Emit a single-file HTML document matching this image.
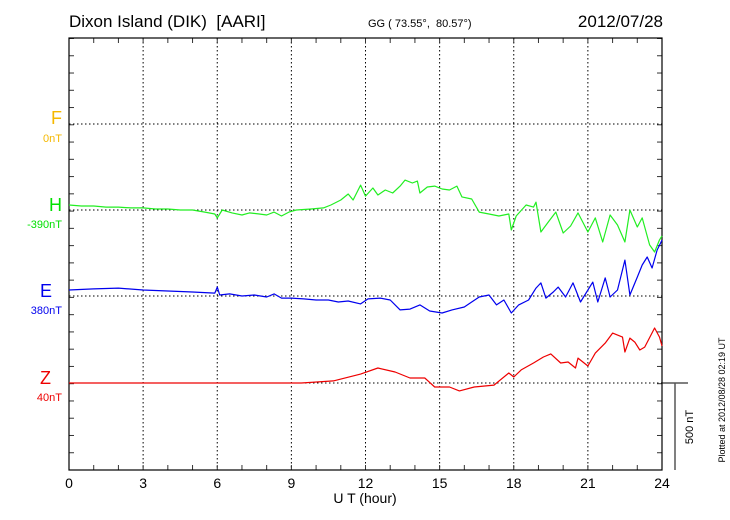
<!DOCTYPE html>
<html><head><meta charset="utf-8"><style>
body{margin:0;background:#fff;}
svg{display:block;font-family:"Liberation Sans",sans-serif;}
</style></head><body>
<svg id="chart" width="730" height="520" viewBox="0 0 730 520">
<text x="69" y="27" font-size="17" style="white-space:pre">Dixon Island (DIK)  [AARI]</text>
<text x="368" y="27" font-size="11" style="white-space:pre">GG ( 73.55°,  80.57°)</text>
<text x="663" y="27" font-size="17" text-anchor="end">2012/07/28</text>
<text x="365" y="503" font-size="14" text-anchor="middle">U T (hour)</text>
<text transform="translate(725,400) rotate(-90)" font-size="9" text-anchor="middle">Plotted at 2012/08/28 02:19 UT</text>
<g id="grid"></g><g id="series"></g>
<text x="62" y="124" font-size="18" fill="#f5b800" text-anchor="end">F</text>
<text x="62" y="142" font-size="11" fill="#f5b800" text-anchor="end">0nT</text>
<text x="62" y="211" font-size="18" fill="#00e000" text-anchor="end">H</text>
<text x="62" y="228" font-size="11" fill="#00e000" text-anchor="end">-390nT</text>
<text x="52" y="297" font-size="18" fill="#0000ee" text-anchor="end">E</text>
<text x="62" y="314" font-size="11" fill="#0000ee" text-anchor="end">380nT</text>
<text x="51" y="384" font-size="18" fill="#ee0000" text-anchor="end">Z</text>
<text x="62" y="401" font-size="11" fill="#ee0000" text-anchor="end">40nT</text>
<line x1="662" y1="383" x2="688" y2="383" stroke="#000"/>
<line x1="675" y1="383" x2="675" y2="470" stroke="#555" stroke-width="1.5"/>
<text transform="translate(693,427) rotate(-90)" font-size="11" text-anchor="middle">500 nT</text>
</svg>
<script>
const xTicks=[0,3,6,9,12,15,18,21,24];
const hT=[0,0.5,1,1.5,2,2.5,3,3.5,4,4.5,5,5.5,5.9,6.0,6.2,6.6,7,7.3,7.7,8,8.3,8.6,8.9,9.2,9.8,10.3,10.6,11,11.3,11.5,11.8,12,12.3,12.5,12.8,13.1,13.4,13.6,13.9,14.1,14.2,14.5,14.8,15.1,15.4,15.7,15.9,16.3,16.6,17,17.4,17.8,17.9,18.1,18.5,18.8,18.9,19.1,19.4,19.7,20,20.3,20.6,21,21.3,21.6,21.9,22.2,22.5,22.7,23,23.2,23.5,23.7,23.9,24];
const hV=[29,23,23,17,17,12,12,6,6,0,0,-12,-23,-46,0,-17,-29,-17,-23,-29,-12,-35,-12,0,6,12,29,58,93,58,145,81,128,87,116,99,139,174,157,168,99,134,139,122,116,139,76,64,-12,-23,-35,-23,-116,-35,29,17,46,-128,-70,-12,-134,-93,-17,-128,-46,-186,-29,-87,-186,0,-99,-46,-203,-244,-174,-151];
const eT=[0,1,2,3,4,5,5.9,6.0,6.1,6.5,7,7.5,8,8.3,8.6,9,9.5,10,10.5,10.9,11.3,11.8,12.1,12.6,13,13.4,13.8,14.2,14.6,15.1,15.5,16,16.3,16.6,17,17.3,17.6,17.9,18.2,18.6,18.9,19.1,19.3,19.6,19.8,20.1,20.4,20.7,21.2,21.4,21.7,21.9,22.2,22.5,22.7,23,23.2,23.4,23.6,23.8,24];
const eV=[35,41,46,35,29,23,17,52,6,12,0,6,-6,12,-12,-12,-17,-23,-23,-35,-29,-46,-17,-12,-23,-81,-76,-52,-87,-99,-81,-64,-35,-6,6,-52,-23,-99,-52,-23,46,76,-12,23,52,-6,76,-35,81,-35,105,-6,35,209,6,110,180,227,163,267,325];
const zT=[0,4,8,9.4,10.7,11.8,12.5,13.2,13.8,14.4,14.8,15.4,15.8,16.4,17.2,17.8,18.0,18.3,18.8,19.2,19.5,19.9,20.2,20.5,20.6,21.0,21.3,21.7,22.0,22.4,22.5,22.7,22.9,23.1,23.3,23.7,23.9,24];
const zV=[0,0,0,0,12,52,87,64,29,29,-23,-23,-46,-23,-12,58,35,76,116,151,169,116,122,87,145,99,174,232,290,267,180,261,238,192,209,320,267,215];
const X0=69,X1=662,Y0=38,Y1=470,PX_PER_NT=86/500;
const xs=h=>X0+(X1-X0)*h/24;
const ys=(base,v)=>base-v*PX_PER_NT;
const NS="http://www.w3.org/2000/svg";
function mk(tag,attrs,parent){const e=document.createElementNS(NS,tag);for(const k in attrs)e.setAttribute(k,attrs[k]);parent.appendChild(e);return e;}
const grid=document.getElementById('grid');
xTicks.forEach((t,i)=>{if(i>0&&i<xTicks.length-1){
const l=mk('line',{x1:xs(t),x2:xs(t),y1:Y0,y2:Y1,stroke:'#000','stroke-dasharray':'1.5,2.5','stroke-width':1},grid);

}
const tx=mk('text',{x:xs(t),y:Y1+18,'font-size':14,'text-anchor':'middle'},grid);tx.textContent=t;

});
[124,210,296,383].forEach(y=>{const l=mk('line',{x1:X0,x2:X1,y1:y,y2:y,stroke:'#000','stroke-dasharray':'1.5,2.5','stroke-width':1},grid);

});
for(let h=0;h<=24;h++){mk('line',{x1:xs(h),x2:xs(h),y1:Y0,y2:Y0+5,stroke:'#333'},grid);mk('line',{x1:xs(h),x2:xs(h),y1:Y1,y2:Y1-5,stroke:'#333'},grid);}
for(let y=Y1;y>=Y0;y-=86.3/5){mk('line',{x1:X0,x2:X0+5,y1:y,y2:y,stroke:'#333'},grid);mk('line',{x1:X1,x2:X1-5,y1:y,y2:y,stroke:'#333'},grid);}
const box=mk('rect',{x:X0,y:Y0,width:X1-X0,height:Y1-Y0,fill:'none',stroke:'#000','stroke-width':1.2},grid);


const ser=document.getElementById('series');
function draw(T,V,base,color,name){const d=T.map((t,i)=>(i?'L':'M')+xs(t).toFixed(1)+','+ys(base,V[i]).toFixed(1)).join(' ');
const p=mk('path',{d:d,fill:'none',stroke:color,'stroke-width':1.2,'stroke-linejoin':'round'},ser);

}
draw(hT,hV,210,'#22ee22','h-series-line');
draw(eT,eV,296,'#0000ee','e-series-line');
draw(zT,zV,383,'#ee0000','z-series-line');
</script>
</body></html>
